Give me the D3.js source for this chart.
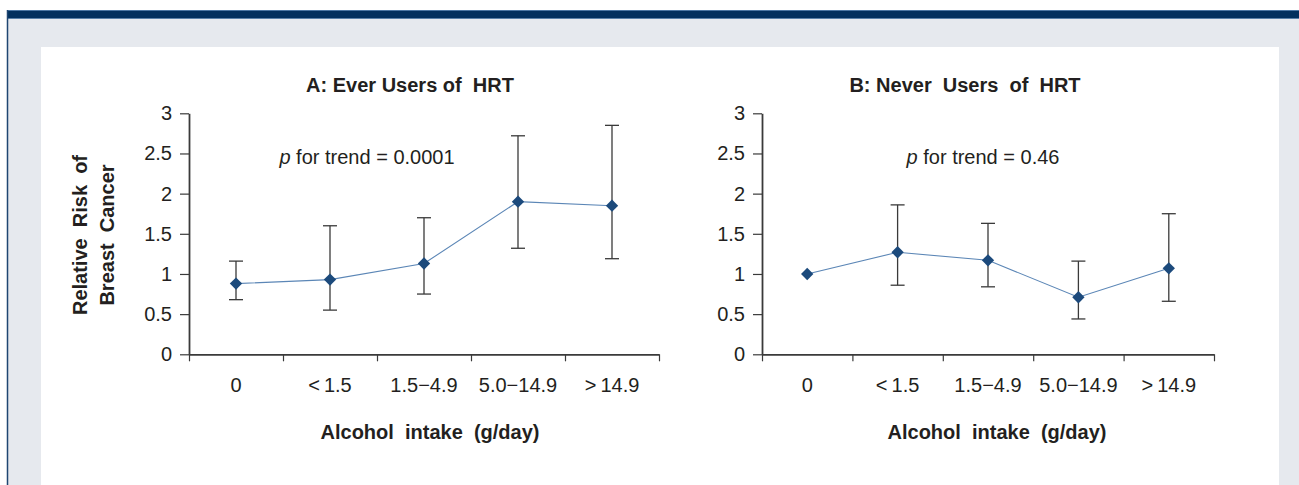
<!DOCTYPE html>
<html lang="en">
	<head>
		<meta charset="utf-8">
		<title>Alcohol intake and breast cancer risk</title>
		<script type="text/javascript" src="https://cdn.jsdelivr.net/npm/d3@7"></script>
		<style type="text/css">
			body {
				margin: 0;
				background: white;
			}
			svg text {
				font-family: "Liberation Sans", Arial, sans-serif;
				fill: #231f20;
				white-space: pre;
			}
			.axis path, .axis line {
				stroke: #3a3a3a;
			}
			.axis text {
				font-size: 20px;
			}
			.title {
				font-size: 20px;
				font-weight: bold;
			}
		</style>
	</head>
	<body>
		<script type="text/javascript">

			//Width and height
			var w = 1299;
			var h = 485;

			//Data
			var categories = ["0", "<\u20091.5", "1.5\u22124.9", "5.0\u221214.9", ">\u200914.9"];
			var everRR   = [0.88, 0.93, 1.13, 1.90, 1.85];
			var everLow  = [0.68, 0.55, 0.75, 1.32, 1.19];
			var everHigh = [1.16, 1.60, 1.70, 2.72, 2.85];
			var neverRR   = [1.00, 1.27, 1.17, 0.71, 1.07];
			var neverLow  = [null, 0.86, 0.84, 0.44, 0.66];
			var neverHigh = [null, 1.86, 1.63, 1.16, 1.75];
			var yTicks = [0, 0.5, 1, 1.5, 2, 2.5, 3];

			var svg = d3.select("body")
						.append("svg")
						.attr("width", w)
						.attr("height", h);

			//Page frame: grey backing, navy band, white panel
			svg.append("rect")
			   .attr("x", 7).attr("y", 10)
			   .attr("width", w - 7).attr("height", h - 10)
			   .attr("fill", "#e6e9ee");
			svg.append("rect")
			   .attr("x", 7).attr("y", 10)
			   .attr("width", w - 7).attr("height", 9)
			   .attr("fill", "#03305e");
			svg.append("line")
			   .attr("x1", 7).attr("x2", w)
			   .attr("y1", 10.5).attr("y2", 10.5)
			   .attr("stroke", "#4c76a3");
			svg.append("line")
			   .attr("x1", 7).attr("x2", w)
			   .attr("y1", 18.5).attr("y2", 18.5)
			   .attr("stroke", "#5a80a8");
			svg.append("line")
			   .attr("x1", 7.5).attr("x2", 7.5)
			   .attr("y1", 10).attr("y2", h)
			   .attr("stroke", "#1f4672")
			   .attr("stroke-width", 1.5);
			svg.append("rect")
			   .attr("x", 41).attr("y", 47)
			   .attr("width", 1238).attr("height", h - 47)
			   .attr("fill", "white");

			var yScale = d3.scaleLinear()
						   .domain([0, 3])
						   .range([354.3, 113.3]);

			function drawPanel(p) {
				var xScale = d3.scaleBand()
							   .domain(categories)
							   .range([p.left, p.right]);

				var xEdges = d3.scaleLinear()
							   .domain([0, categories.length])
							   .range([p.left, p.right]);

				var rows = categories.map(function(c, i) {
					return { cat: c, rr: p.rr[i], lo: p.lo[i], hi: p.hi[i] };
				});

				//Title
				svg.append("text")
				   .attr("class", "title")
				   .attr("x", p.titleX)
				   .attr("y", 92)
				   .attr("text-anchor", "middle")
				   .text(p.title);

				//p for trend
				var pt = svg.append("text")
							.attr("x", p.pX)
							.attr("y", 164)
							.attr("text-anchor", "middle")
							.style("font-size", "20px");
				pt.append("tspan").style("font-style", "italic").text("p");
				pt.append("tspan").text(" for trend = " + p.pValue);

				//Y axis
				svg.append("g")
				   .attr("class", "axis")
				   .attr("transform", "translate(" + p.left + ",0)")
				   .call(d3.axisLeft(yScale)
						   .tickValues(yTicks)
						   .tickFormat(function(d) { return String(d); })
						   .tickSize(9)
						   .tickSizeOuter(0)
						   .tickPadding(8))
				   .call(function(g) {
						g.select(".domain").attr("stroke-width", 1.8);
						g.selectAll(".tick line").attr("stroke-width", 1.2);
				   });

				//X axis: ticks at the category edges
				svg.append("g")
				   .attr("class", "axis")
				   .attr("transform", "translate(0," + yScale(0) + ")")
				   .call(d3.axisBottom(xEdges)
						   .tickValues(d3.range(categories.length + 1))
						   .tickFormat("")
						   .tickSize(7)
						   .tickSizeOuter(0))
				   .call(function(g) {
						g.select(".domain").attr("stroke-width", 1.8);
						g.selectAll(".tick line").attr("stroke-width", 1.2);
				   });

				//X labels at the category centres
				svg.append("g")
				   .attr("class", "axis")
				   .attr("transform", "translate(0," + yScale(0) + ")")
				   .call(d3.axisBottom(xScale).tickSize(0).tickPadding(24))
				   .call(function(g) { g.select(".domain").remove(); });

				//X axis title
				svg.append("text")
				   .attr("class", "title")
				   .attr("x", p.xTitleX)
				   .attr("y", 439)
				   .attr("text-anchor", "middle")
				   .text("Alcohol  intake  (g/day)");

				var cx = function(d) { return xScale(d.cat) + xScale.bandwidth() / 2; };

				//Error bars
				var bars = svg.append("g")
							  .selectAll("g")
							  .data(rows.filter(function(d) { return d.lo !== null; }))
							  .enter()
							  .append("g")
							  .attr("stroke", "#3a3a3a")
							  .attr("stroke-width", 1.3);
				bars.append("line")
					.attr("x1", cx).attr("x2", cx)
					.attr("y1", function(d) { return yScale(d.lo); })
					.attr("y2", function(d) { return yScale(d.hi); });
				bars.append("line")
					.attr("x1", function(d) { return cx(d) - 7; })
					.attr("x2", function(d) { return cx(d) + 7; })
					.attr("y1", function(d) { return yScale(d.hi); })
					.attr("y2", function(d) { return yScale(d.hi); });
				bars.append("line")
					.attr("x1", function(d) { return cx(d) - 7; })
					.attr("x2", function(d) { return cx(d) + 7; })
					.attr("y1", function(d) { return yScale(d.lo); })
					.attr("y2", function(d) { return yScale(d.lo); });

				//Connecting line
				svg.append("path")
				   .datum(rows)
				   .attr("fill", "none")
				   .attr("stroke", "#5b86b6")
				   .attr("stroke-width", 1.1)
				   .attr("d", d3.line()
								.x(cx)
								.y(function(d) { return yScale(d.rr); }));

				//Diamonds last, so they appear in front
				svg.append("g")
				   .selectAll("path")
				   .data(rows)
				   .enter()
				   .append("path")
				   .attr("d", d3.symbol().type(d3.symbolSquare).size(76))
				   .attr("transform", function(d) {
						return "translate(" + cx(d) + "," + yScale(d.rr) + ") rotate(45)";
				   })
				   .attr("fill", "#1c4a7c");
			}

			drawPanel({
				left: 189, right: 659,
				title: "A: Ever Users of  HRT", titleX: 410,
				pValue: "0.0001", pX: 367,
				xTitleX: 430,
				rr: everRR, lo: everLow, hi: everHigh
			});

			drawPanel({
				left: 762, right: 1214,
				title: "B: Never  Users  of  HRT", titleX: 965,
				pValue: "0.46", pX: 983,
				xTitleX: 997,
				rr: neverRR, lo: neverLow, hi: neverHigh
			});

			//Y axis title (panel A only), two lines
			var yTitle = svg.append("text")
							.attr("class", "title")
							.attr("transform", "translate(87,235) rotate(-90)")
							.attr("text-anchor", "middle");
			yTitle.append("tspan").attr("x", 0).attr("dy", 0).text("Relative  Risk  of");
			yTitle.append("tspan").attr("x", 0).attr("dy", 27).text("Breast  Cancer");

		</script>
	</body>
</html>
